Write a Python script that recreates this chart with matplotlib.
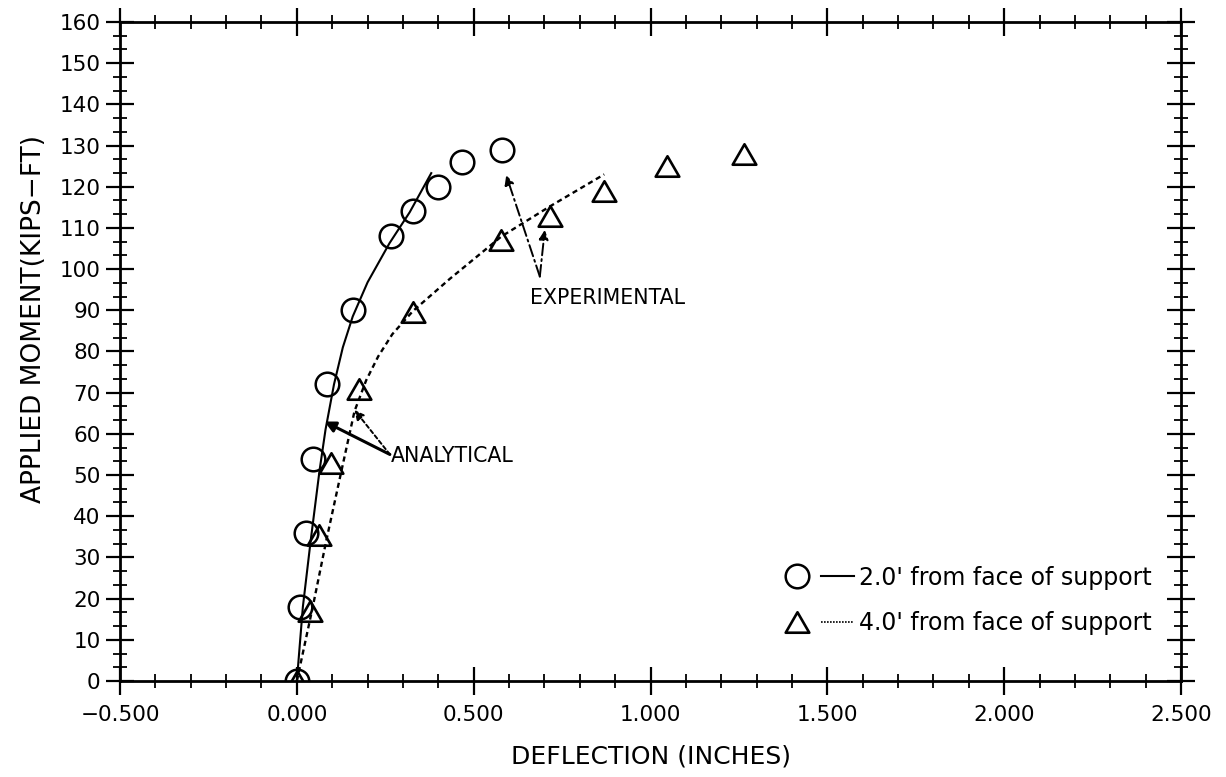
import matplotlib
matplotlib.use("Agg")
import matplotlib.pyplot as plt
from matplotlib.path import Path
from matplotlib.lines import Line2D
from matplotlib.legend_handler import HandlerTuple
from matplotlib.ticker import MultipleLocator, FuncFormatter

# ---- data ----
circle_x = [0.0, 0.008, 0.027, 0.045, 0.086, 0.160, 0.265, 0.328, 0.399, 0.467, 0.580]
circle_y = [0, 18, 36, 54, 72, 90, 108, 114, 120, 126, 129]
tri_x = [0.0, 0.036, 0.064, 0.097, 0.177, 0.328, 0.578, 0.715, 0.869, 1.048, 1.265]
tri_y = [0, 17, 35.5, 53, 71, 89.5, 107, 113, 119, 125, 128]

ana2_x = [0.0, 0.017, 0.039, 0.064, 0.081, 0.105, 0.130, 0.158, 0.200, 0.262, 0.319, 0.380]
ana2_y = [0, 18, 34, 51, 61, 72, 81, 88.5, 96.8, 106.3, 113.8, 123.3]
ana4_x = [0.0, 0.045, 0.083, 0.126, 0.163, 0.196, 0.230, 0.270, 0.328, 0.432, 0.578, 0.715, 0.869]
ana4_y = [0, 18, 34, 51, 65.5, 73, 78.8, 84.2, 89.8, 97.6, 107.9, 115.2, 123]

legend_labels = ["2.0' from face of support", "4.0' from face of support"]
x_label = "DEFLECTION (INCHES)"
y_label = "APPLIED MOMENT(KIPS\u2212FT)"

plt.rcParams['font.family'] = ['DejaVu Sans']

fig = plt.figure(figsize=(12.26, 7.77), dpi=100)
ax = fig.add_axes([0.0979, 0.1236, 0.9633 - 0.0979, 0.9717 - 0.1236])

tri_marker = Path([(-1, -0.866), (1, -0.866), (0, 0.866), (-1, -0.866)],
                  [Path.MOVETO, Path.LINETO, Path.LINETO, Path.CLOSEPOLY])

dotted = (0, (2.2, 1.6))

ax.plot(ana2_x, ana2_y, color='black', lw=1.5, ls='-', zorder=2)
ax.plot(ana4_x, ana4_y, color='black', lw=1.7, ls=dotted, zorder=2)
ax.plot(circle_x, circle_y, ls='none', marker='o', ms=17, mfc='none',
        mec='black', mew=1.8, zorder=3)
ax.plot(tri_x, tri_y, ls='none', marker=tri_marker, ms=17, mfc='none',
        mec='black', mew=1.9, zorder=3)

# annotations
ax.text(0.265, 54.5, "ANALYTICAL", fontsize=14.8, va='center', ha='left')
ax.annotate("", xy=(0.078, 63), xytext=(0.263, 55),
            arrowprops=dict(arrowstyle='-|>', color='black', lw=2.2,
                            mutation_scale=16, shrinkA=0, shrinkB=0))
ax.annotate("", xy=(0.163, 65.8), xytext=(0.263, 55),
            arrowprops=dict(arrowstyle='-|>', color='black', lw=1.4,
                            ls=(0, (2, 1.5)), mutation_scale=14,
                            shrinkA=0, shrinkB=0))

ax.text(0.658, 93, "EXPERIMENTAL", fontsize=14.8, va='center', ha='left')
ax.annotate("", xy=(0.592, 122.8), xytext=(0.687, 98.2),
            arrowprops=dict(arrowstyle='-|>', color='black', lw=1.4,
                            ls=(0, (6, 2, 1, 2)), mutation_scale=14,
                            shrinkA=0, shrinkB=0))
ax.annotate("", xy=(0.701, 109.5), xytext=(0.687, 98.2),
            arrowprops=dict(arrowstyle='-|>', color='black', lw=1.4,
                            ls=(0, (6, 2, 1, 2)), mutation_scale=14,
                            shrinkA=0, shrinkB=0))

# axes
ax.set_xlim(-0.5, 2.5)
ax.set_ylim(0, 160)
ax.xaxis.set_major_locator(MultipleLocator(0.5))
ax.xaxis.set_minor_locator(MultipleLocator(0.1))
ax.yaxis.set_major_locator(MultipleLocator(10))
ax.yaxis.set_minor_locator(MultipleLocator(10 / 3))
ax.xaxis.set_major_formatter(FuncFormatter(lambda v, p: f"{v:.3f}".replace('-', '\u2212')))
ax.tick_params(which='both', direction='inout', top=True, right=True,
               labelsize=15.5, color='black', width=1.6)
ax.tick_params(which='major', length=20)
ax.tick_params(which='minor', length=10, width=1.3)
ax.tick_params(axis='x', which='major', pad=7)
ax.tick_params(axis='y', which='major', pad=4)
for s in ax.spines.values():
    s.set_linewidth(2.0)

ax.set_xlabel(x_label, fontsize=18, labelpad=14)
ax.set_ylabel(y_label, fontsize=19)
ax.yaxis.set_label_coords(-0.069, 0.55)

h1 = (Line2D([], [], ls='none', marker='o', ms=17, mfc='none', mec='black', mew=1.8),
      Line2D([], [], ls='-', color='black', lw=1.5))
h2 = (Line2D([], [], ls='none', marker=tri_marker, ms=17, mfc='none', mec='black', mew=1.9),
      Line2D([], [], ls=(0, (1, 0.8)), color='black', lw=1.2))
leg = ax.legend([h1, h2], legend_labels,
                handler_map={tuple: HandlerTuple(ndivide=None, pad=0.3)},
                loc='lower right', bbox_to_anchor=(0.972, 0.07),
                borderaxespad=0, borderpad=0,
                frameon=False, fontsize=17, handlelength=3.1,
                handletextpad=0.2, labelspacing=0.9)

fig.savefig("out.png", dpi=100)
